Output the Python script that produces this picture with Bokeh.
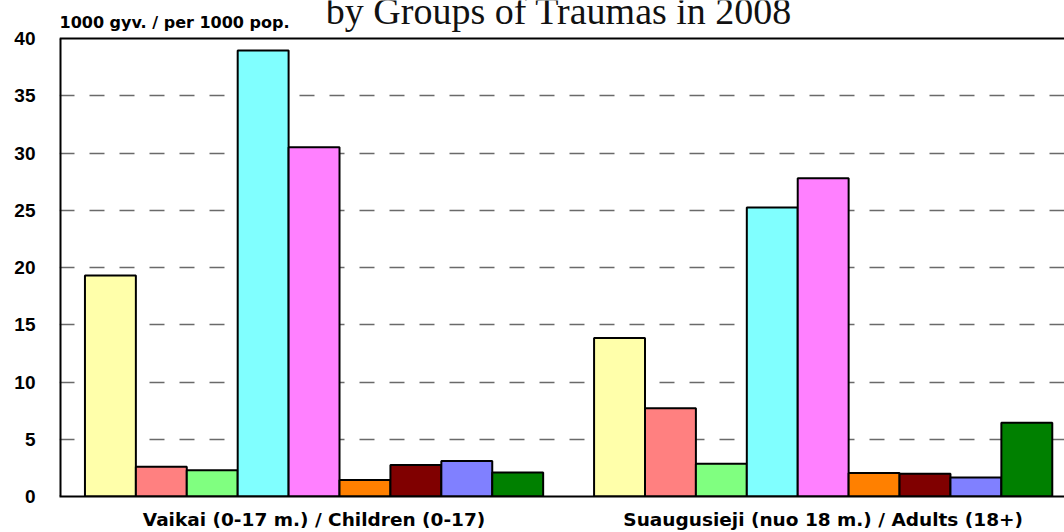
from bokeh.plotting import figure
from bokeh.models import Range1d, FixedTicker, Label, Span, ColumnDataSource
from bokeh.embed import file_html
from bokeh.resources import INLINE

# ---- data ----
groups = ["Vaikai (0-17 m.) / Children (0-17)",
          "Suaugusieji (nuo 18 m.) / Adults (18+)"]
trauma_groups = ["Group 1", "Group 2", "Group 3", "Group 4", "Group 5",
                 "Group 6", "Group 7", "Group 8", "Group 9"]
children = [19.3, 2.6, 2.3, 38.95, 30.5, 1.45, 2.75, 3.1, 2.1]
adults = [13.85, 7.7, 2.85, 25.25, 27.8, 2.05, 1.98, 1.65, 6.45]
colors = ["#FFFFAA", "#FF8080", "#80FF80", "#80FFFF", "#FF80FF",
          "#FF8000", "#800000", "#8080FF", "#008000"]
y_ticks = [0, 5, 10, 15, 20, 25, 30, 35, 40]
y_max = 40
unit_label = "1000 gyv. / per 1000 pop."
title_text = "by Groups of Traumas in 2008"

# ---- layout of bars: each group takes 10 bar slots (9 bars + padding) ----
n = len(trauma_groups)
slot = n + 1
xs, tops, cols = [], [], []
for g, vals in enumerate([children, adults]):
    for i, v in enumerate(vals):
        xs.append(g * slot + 1 + i)
        tops.append(v)
        cols.append(colors[i])
src = ColumnDataSource(dict(x=xs, top=tops, color=cols))
group_centers = [g * slot + slot / 2 for g in range(len(groups))]

H, B = 532, 36          # figure height, bottom border
plot_px = 458           # pixels used by the 0..40 value axis
frame_px = H - B
y_top = y_max * frame_px / plot_px   # leave room above 40 for header texts

p = figure(width=1064, height=H, output_backend="svg", toolbar_location=None,
           x_range=Range1d(0, 19.74), y_range=Range1d(0, y_top),
           min_border_left=59, min_border_right=0, min_border_top=0,
           min_border_bottom=B)
p.outline_line_color = None
p.background_fill_color = "white"

p.vbar(x="x", top="top", width=1.0, bottom=0, fill_color="color",
       line_color="black", line_width=2, source=src)

# left axis line (only from 0 to 40) and top border line
p.segment(x0=[0], y0=[0], x1=[0], y1=[y_max], line_color="black", line_width=4)
p.add_layout(Span(location=y_max, dimension="width", line_color="black", line_width=2))

# grid
p.xgrid.visible = False
p.ygrid.ticker = FixedTicker(ticks=y_ticks[1:-1])
p.ygrid.grid_line_color = "#6a6a6a"
p.ygrid.grid_line_width = 1.5
p.ygrid.grid_line_dash = "15 15"

# y axis
p.yaxis.ticker = FixedTicker(ticks=y_ticks)
p.yaxis.axis_line_color = None
p.yaxis.major_tick_line_color = None
p.yaxis.major_tick_out = 0
p.yaxis.major_tick_in = 0
p.yaxis.minor_tick_line_color = None
p.yaxis.major_label_text_font = "Liberation Sans"
p.yaxis.major_label_text_font_style = "bold"
p.yaxis.major_label_text_font_size = "19px"
p.yaxis.major_label_text_color = "black"
p.yaxis.major_label_standoff = 24

# x axis
p.xaxis.ticker = FixedTicker(ticks=group_centers)
p.xaxis.major_label_overrides = {c: lab for c, lab in zip(group_centers, groups)}
p.xaxis.axis_line_color = "black"
p.xaxis.axis_line_width = 2
p.xaxis.major_tick_out = 0
p.xaxis.major_tick_in = 0
p.xaxis.minor_tick_line_color = None
p.xaxis.major_label_text_font = "DejaVu Sans"
p.xaxis.major_label_text_font_style = "bold"
p.xaxis.major_label_text_font_size = "18.5px"
p.xaxis.major_label_text_color = "black"
p.xaxis.major_label_standoff = 12

# unit label and (cropped) title line
p.add_layout(Label(x=0, y=y_max, y_offset=16, text=unit_label, text_align="left",
                   text_baseline="alphabetic", text_font="DejaVu Sans",
                   text_font_style="bold", text_font_size="16px", text_color="black"))
p.add_layout(Label(x=9.81, y=y_max, y_offset=28, text=title_text, text_align="center",
                   text_baseline="alphabetic", text_font="Liberation Serif",
                   text_font_size="38px", text_color="#111111"))

open("out.html", "w").write(file_html(p, INLINE))
